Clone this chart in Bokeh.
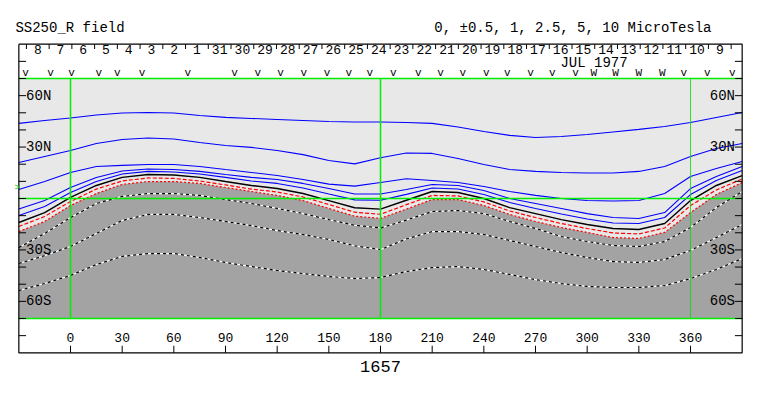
import numpy as np
from bokeh.plotting import figure
from bokeh.models import Range1d
from bokeh.core.properties import value
from bokeh.embed import file_html
from bokeh.resources import INLINE

FONT = "Liberation Mono"

# ---------------- data ----------------
lons = [-30, -15, 0, 15, 30, 45, 60, 75, 90, 105, 120, 135, 150, 165, 180,
        195, 210, 225, 240, 255, 270, 285, 300, 315, 330, 345, 360, 375, 390]

# contour latitudes (deg) at each longitude, levels in microTesla
pos10 = [43.8, 45.5, 47.0, 48.7, 49.9, 50.2, 49.9, 48.4, 47.3, 46.7, 46.1, 45.5, 44.9, 44.6, 44.6,
         44.3, 43.8, 41.7, 39.1, 36.8, 35.6, 36.2, 37.3, 38.8, 40.3, 42.0, 44.3, 47.3, 50.2]
pos5 = [21.0, 24.5, 28.0, 32.1, 34.4, 35.3, 34.7, 32.7, 30.9, 29.8, 28.0, 25.6, 22.2, 20.2, 23.8,
        26.5, 26.3, 23.3, 19.8, 16.9, 15.8, 15.2, 14.9, 14.9, 15.8, 18.7, 24.5, 29.2, 32.1]
pos2_5 = [5.3, 9.9, 15.2, 18.7, 19.3, 19.8, 19.8, 18.7, 16.9, 15.2, 13.4, 11.1, 8.4, 7.2, 9.3,
          11.5, 10.5, 9.3, 7.0, 4.1, 1.8, 0.0, -1.2, -1.5, -1.2, 2.9, 12.8, 17.5, 21.6]
pos1 = [-6.1, -1.2, 6.4, 12.3, 16.0, 17.2, 16.9, 15.8, 14.0, 12.3, 11.1, 8.8, 5.8, 2.6, 2.6,
        5.3, 8.2, 7.6, 4.7, 0.0, -2.9, -5.8, -8.8, -11.1, -11.7, -8.2, 5.8, 12.8, 18.7]
pos0_5 = [-9.9, -4.7, 3.5, 9.9, 14.3, 15.8, 15.5, 14.3, 12.3, 10.2, 8.8, 6.1, 2.6, -0.8, -1.0,
          2.4, 6.1, 5.5, 2.3, -2.3, -5.8, -9.0, -12.0, -14.3, -14.6, -11.1, 2.3, 10.5, 16.3]
zero = [-14.0, -8.2, 0.6, 7.6, 12.3, 14.0, 13.7, 12.3, 9.9, 7.6, 5.8, 2.9, -1.2, -5.4, -6.2,
        -1.0, 4.1, 3.5, 0.0, -5.3, -8.8, -12.3, -15.2, -17.5, -18.1, -14.6, -1.2, 7.6, 13.4]
neg0_5 = [-16.3, -10.5, -1.8, 5.5, 10.2, 12.0, 11.7, 10.2, 7.9, 5.5, 3.8, 0.9, -3.5, -8.0, -9.2,
          -3.6, 1.8, 1.5, -2.0, -7.3, -11.1, -14.6, -17.5, -20.1, -20.7, -17.2, -4.1, 5.0, 11.4]
neg1 = [-19.3, -13.4, -4.1, 2.9, 8.2, 9.9, 9.9, 8.8, 6.4, 4.1, 1.8, -1.2, -5.8, -10.3, -11.6,
        -6.2, -0.6, -0.6, -4.1, -9.3, -13.4, -16.9, -19.8, -22.8, -23.3, -19.8, -8.2, 2.3, 9.3]
neg2_5 = [-28.6, -20.4, -11.1, -2.9, 1.2, 2.9, 2.9, 1.8, -0.6, -2.9, -5.8, -8.8, -12.3, -15.6, -17.2,
          -12.6, -7.6, -7.0, -8.8, -13.4, -17.5, -22.2, -25.1, -27.4, -28.0, -25.1, -16.9, -5.3, 4.1]
neg5 = [-37.9, -33.3, -28.0, -20.4, -12.8, -9.3, -9.3, -11.1, -13.4, -15.8, -18.7, -21.0, -23.9, -27.6, -29.8,
        -23.6, -19.3, -19.3, -21.0, -24.5, -28.0, -31.5, -34.4, -36.8, -37.3, -35.6, -30.3, -22.8, -15.2]
neg10 = [-53.7, -49.6, -44.9, -38.5, -33.8, -32.1, -32.1, -34.4, -37.3, -39.7, -42.0, -43.8, -45.5, -46.7, -46.1,
         -42.6, -40.3, -39.7, -41.4, -44.3, -47.3, -49.6, -51.3, -51.9, -51.9, -50.8, -46.7, -41.4, -35.0]

lat_ticks = [-80, -70, -60, -50, -40, -30, -20, -10, 0, 10, 20, 30, 40, 50, 60, 70, 80]
lat_label_vals = [60, 30, -30, -60]
lat_label_text = ["60N", "30N", "30S", "60S"]

lon_ticks = [0, 30, 60, 90, 120, 150, 180, 210, 240, 270, 300, 330, 360]
lon_labels = ["0", "30", "60", "90", "120", "150", "180", "210", "240", "270", "300", "330", "360"]

day_bounds = [-25.6, -12.4, 0.8, 14.0, 27.2, 40.4, 53.6, 66.8, 80.0, 93.2, 106.4, 119.6, 132.8,
              146.0, 159.2, 172.4, 185.6, 198.8, 212.0, 225.2, 238.4, 251.6, 264.8, 278.0, 291.2,
              304.4, 317.6, 330.8, 344.0, 357.2, 370.4, 383.6]
day_labels = ["8", "7", "6", "5", "4", "3", "2", "1", "31", "30", "29", "28", "27", "26", "25",
              "24", "23", "22", "21", "20", "19", "18", "17", "16", "15", "14", "13", "12", "11",
              "10", "9"]

obs_lons = [-26.1, -11.6, 0.6, 16.4, 27.1, 41.6, 68.1, 95.2, 108.8, 121.9, 135.5, 149.0, 161.6,
            173.8, 187.4, 201.9, 214.8, 227.8, 241.4, 253.6, 267.1, 279.7, 293.2, 303.9, 316.5,
            330.0, 343.6, 356.1, 369.7, 384.2]
obs_marks = ["v", "v", "v", "v", "v", "v", "v", "v", "v", "v", "v", "v", "v", "v", "v", "v",
             "v", "v", "v", "v", "v", "v", "v", "W", "W", "W", "W", "v", "v", "v"]

green_lats = [70, 0, -70]
green_lons_main = [0, 180]
green_lon_end = [360]
b0_lat = 6.2

title_left = "SS250_R field"
title_right = "0, \u00b10.5, 1, 2.5, 5, 10 MicroTesla"
month_label = "JUL 1977"
rotation = "1657"

# ---------------- layout constants ----------------
LON_MIN, LON_MAX = -30, 390
LAT_EDGE = 70
LAT_BOX = 90

p = figure(width=755, height=388, x_range=Range1d(-40.65, 397.74), y_range=Range1d(-110.83, 115.5),
           output_backend="svg", toolbar_location=None, x_axis_location=None, y_axis_location=None,
           min_border=0)
p.min_border_left = p.min_border_right = p.min_border_top = p.min_border_bottom = 0
p.outline_line_color = None
p.xgrid.visible = False
p.ygrid.visible = False
p.background_fill_color = "white"
p.border_fill_color = "white"

# background of the map
p.quad(left=[LON_MIN], right=[LON_MAX], bottom=[-LAT_EDGE], top=[LAT_EDGE],
       fill_color="#e8e8e8", line_color=None)
# negative-field shading
p.varea(x=lons, y1=np.full(len(lons), -float(LAT_EDGE)), y2=neg1, fill_color="#a3a3a3")

# positive contours
for c in [pos10, pos5, pos2_5, pos1, pos0_5]:
    p.line(lons, c, line_color="#0000ff", line_width=1.1)
# neutral line
p.line(lons, zero, line_color="black", line_width=1.4)
# weak negative contours
p.line(lons, neg0_5, line_color="#ff0000", line_width=1.2, line_dash="4 2")
p.line(lons, neg1, line_color="#ff0000", line_width=1.2, line_dash="2 2")
# stronger negative contours (black/white dashes)
for c in [neg2_5, neg5, neg10]:
    p.line(lons, c, line_color="white", line_width=1.2)
    p.line(lons, c, line_color="black", line_width=1.2, line_dash="3 3")

# green reference lines
p.multi_line(xs=[[LON_MIN, LON_MAX] for _ in green_lats], ys=[[g, g] for g in green_lats],
             line_color="#00ee00", line_width=1.5)
p.multi_line(xs=[[g, g] for g in green_lons_main], ys=[[-LAT_EDGE, LAT_EDGE] for _ in green_lons_main],
             line_color="#00ee00", line_width=1.5)
p.multi_line(xs=[[g, g] for g in green_lon_end], ys=[[-LAT_EDGE, LAT_EDGE] for _ in green_lon_end],
             line_color="#00dd00", line_width=1.0, line_alpha=0.8)

# outer box
p.line([LON_MIN, LON_MAX, LON_MAX, LON_MIN, LON_MIN], [LAT_BOX, LAT_BOX, -LAT_BOX, -LAT_BOX, LAT_BOX],
       line_color="black", line_width=1.2)

# latitude ticks, both sides
TL = 4.2
p.segment(x0=[LON_MIN] * len(lat_ticks), x1=[LON_MIN + TL] * len(lat_ticks), y0=lat_ticks, y1=lat_ticks,
          line_color="black", line_width=1)
p.segment(x0=[LON_MAX - TL] * len(lat_ticks), x1=[LON_MAX] * len(lat_ticks), y0=lat_ticks, y1=lat_ticks,
          line_color="black", line_width=1)
p.text(x=[LON_MIN + TL] * len(lat_label_vals), y=lat_label_vals, text=lat_label_text,
       text_font=value(FONT), text_font_size="14px", text_align="left", text_baseline="middle",
       text_color="black")
p.text(x=[LON_MAX - TL] * len(lat_label_vals), y=lat_label_vals, text=lat_label_text,
       text_font=value(FONT), text_font_size="14px", text_align="right", text_baseline="middle",
       text_color="black")

# longitude ticks at bottom
p.segment(x0=lon_ticks, x1=lon_ticks, y0=[-LAT_BOX] * len(lon_ticks), y1=[-LAT_BOX + 4.1] * len(lon_ticks),
          line_color="black", line_width=1)
p.text(x=lon_ticks, y=[-81.0] * len(lon_ticks), text=lon_labels, text_font=value(FONT),
       text_font_size="13px", text_align="center", text_baseline="middle", text_color="black")

# day ticks and labels at top
p.segment(x0=day_bounds, x1=day_bounds, y0=[LAT_BOX] * len(day_bounds), y1=[LAT_BOX - 2.8] * len(day_bounds),
          line_color="black", line_width=1)
day_mid = [(a + b) / 2 for a, b in zip(day_bounds[:-1], day_bounds[1:])]
p.text(x=day_mid, y=[87.2] * len(day_mid), text=day_labels, text_font=value(FONT),
       text_font_size="13px", text_align="center", text_baseline="middle", text_color="black")
p.text(x=[304.0], y=[79.3], text=[month_label], text_font=value(FONT), text_font_size="14px",
       text_align="center", text_baseline="middle", text_color="black")

# observation markers
p.text(x=obs_lons, y=[73.2] * len(obs_lons), text=obs_marks, text_font=value(FONT),
       text_font_size="11px", text_align="center", text_baseline="middle", text_color="black")

# B0 marker
p.text(x=[-31.0], y=[b0_lat], text=[">"], text_font=value(FONT), text_font_size="9px",
       text_align="center", text_baseline="middle", text_color="#00cc00")

# titles and rotation number
p.text(x=[-32.0], y=[99.7], text=[title_left], text_font=value(FONT), text_font_size="14px",
       text_align="left", text_baseline="middle", text_color="black")
p.text(x=[372.2], y=[99.7], text=[title_right], text_font=value(FONT), text_font_size="14px",
       text_align="right", text_baseline="middle", text_color="black")
p.text(x=[180.0], y=[-98.0], text=[rotation], text_font=value(FONT), text_font_size="17px",
       text_align="center", text_baseline="middle", text_color="black")

open("out.html", "w").write(file_html(p, INLINE))
